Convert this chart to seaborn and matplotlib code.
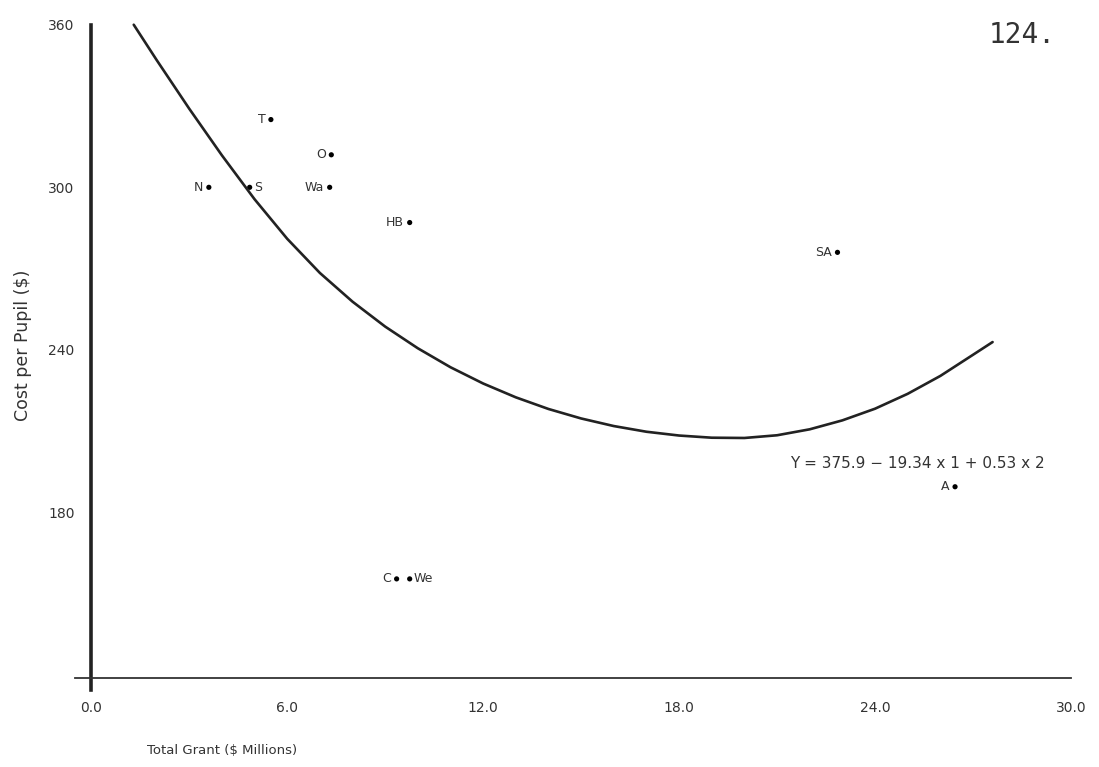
import matplotlib
matplotlib.use("Agg")
import matplotlib.pyplot as plt
import pandas as pd
import seaborn as sns


# districts: total grant ($ millions) vs cost per pupil ($)
district_labels = ["T", "O", "N", "S", "Wa", "HB", "SA", "A", "C", "We"]
district_grant = [5.5, 7.35, 3.6, 4.85, 7.3, 9.75, 22.85, 26.45, 9.35, 9.75]
district_cost = [325, 312, 300, 300, 300, 287, 276, 189.5, 155.5, 155.5]

# fitted curve
curve_grant = [1.3, 2, 3, 4, 5, 6, 7, 8, 9, 10, 11, 12, 13, 14, 15, 16, 17,
               18, 19, 20, 21, 22, 23, 24, 25, 26, 27, 27.6]
curve_cost = [360, 347.0, 329.0, 311.8, 295.6, 281.0, 268.4, 257.8, 248.6,
              240.6, 233.6, 227.6, 222.5, 218.2, 214.7, 211.9, 209.8, 208.4,
              207.6, 207.5, 208.5, 210.7, 214.0, 218.3, 223.8, 230.4, 238.2,
              242.9]

x_ticks = [0, 6, 12, 18, 24, 30]
x_tick_labels = ["0.0", "6.0", "12.0", "18.0", "24.0", "30.0"]
y_ticks = [180, 240, 300, 360]

equation_text = "Y = 375.9 \u2212 19.34 x 1 + 0.53 x 2"
page_number = "124."


def main():
    sns.set_style("white")
    plt.rcParams["font.family"] = ["DejaVu Sans"]

    points = pd.DataFrame({"label": district_labels, "grant": district_grant,
                           "cost": district_cost})
    curve = pd.DataFrame({"grant": curve_grant, "cost": curve_cost})

    fig = plt.figure(figsize=(10.99, 7.67), dpi=100)
    ax = fig.add_axes([0.0682, 0.1004, 0.9063, 0.8709])

    sns.lineplot(data=curve, x="grant", y="cost", ax=ax, color="#222222",
                 linewidth=1.9, sort=False)
    sns.scatterplot(data=points, x="grant", y="cost", ax=ax, color="black",
                    s=14, edgecolor="none")

    # label placement (points offset, alignment)
    right_side = {"S", "We"}
    for _, row in points.iterrows():
        if row["label"] in right_side:
            offset, ha = (3, 0), "left"
        else:
            offset, ha = (-4, 0), "right"
        ax.annotate(row["label"], (row["grant"], row["cost"]), xytext=offset,
                    textcoords="offset points", ha=ha, va="center",
                    fontsize=9, color="#333333")

    ax.text(21.4, 198, equation_text, fontsize=11, color="#333333",
            ha="left", va="center")

    ax.set_xlim(-0.5, 30)
    ax.set_ylim(114.5, 361)

    for side in ["top", "right"]:
        ax.spines[side].set_visible(False)
    ax.spines["left"].set_position(("data", 0))
    ax.spines["left"].set_bounds(114.5, 360)
    ax.spines["left"].set_linewidth(2.6)
    ax.spines["left"].set_color("#222222")
    ax.spines["bottom"].set_position(("data", 119))
    ax.spines["bottom"].set_bounds(-0.5, 30)
    ax.spines["bottom"].set_linewidth(1.3)
    ax.spines["bottom"].set_color("#333333")

    ax.set_xticks(x_ticks)
    ax.set_xticklabels(x_tick_labels)
    ax.set_yticks(y_ticks)
    ax.tick_params(axis="both", direction="out", length=7, width=1.2,
                   labelsize=10, colors="#333333", pad=5)
    ax.tick_params(axis="x", pad=10)

    ax.set_xlabel("")
    ax.set_ylabel("")
    fig.text(0.202, 0.022, "Total Grant ($ Millions)", fontsize=9.5,
             color="#333333", ha="center", va="center")
    fig.text(0.021, 0.55, "Cost per Pupil ($)", fontsize=12.5,
             color="#333333", ha="center", va="center", rotation=90)
    fig.text(0.93, 0.955, page_number, fontsize=20, color="#333333",
             ha="center", va="center", family=["DejaVu Sans Mono"])

    fig.savefig("out.png", dpi=100)
    plt.close(fig)


if __name__ == "__main__":
    main()
